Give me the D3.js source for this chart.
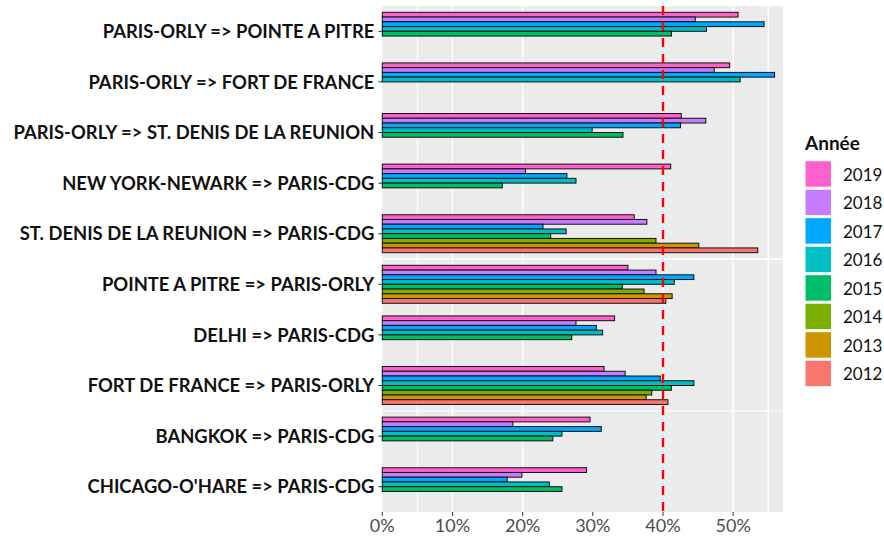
<!DOCTYPE html>
<html>
<head>
<meta charset="utf-8">
<script src="https://cdn.jsdelivr.net/npm/d3@7"></script>
<style>
  body { margin: 0; background: #fff; }
  svg { display: block; font-family: Lato, "Open Sans", sans-serif; }
</style>
</head>
<body>
<svg id="chart" width="884" height="536"></svg>
<script>
// routes, top to bottom
const routes = [
  "PARIS-ORLY => POINTE A PITRE",
  "PARIS-ORLY => FORT DE FRANCE",
  "PARIS-ORLY => ST. DENIS DE LA REUNION",
  "NEW YORK-NEWARK => PARIS-CDG",
  "ST. DENIS DE LA REUNION => PARIS-CDG",
  "POINTE A PITRE => PARIS-ORLY",
  "DELHI => PARIS-CDG",
  "FORT DE FRANCE => PARIS-ORLY",
  "BANGKOK => PARIS-CDG",
  "CHICAGO-O'HARE => PARIS-CDG"
]
const years = ["2019", "2018", "2017", "2016", "2015", "2014", "2013", "2012"]
const yearColors = ["#FF61CC", "#C77CFF", "#00A9FF", "#00BFC4", "#00BE67", "#7CAE00", "#CD9600", "#F8766D"]

// one value per route (null = no data that year)
const v2019 = [0.507, 0.495, 0.426, 0.411, 0.359, 0.350, 0.331, 0.316, 0.296, 0.291]
const v2018 = [0.446, 0.473, 0.461, 0.204, 0.377, 0.390, 0.276, 0.346, 0.186, 0.199]
const v2017 = [0.544, 0.559, 0.425, 0.263, 0.229, 0.444, 0.305, 0.396, 0.312, 0.178]
const v2016 = [0.462, 0.510, 0.299, 0.276, 0.262, 0.416, 0.314, 0.444, 0.256, 0.238]
const v2015 = [0.412, null, 0.343, 0.171, 0.240, 0.342, 0.270, 0.412, 0.243, 0.256]
const v2014 = [null, null, null, null, 0.390, 0.373, null, 0.384, null, null]
const v2013 = [null, null, null, null, 0.451, 0.413, null, 0.376, null, null]
const v2012 = [null, null, null, null, 0.535, 0.404, null, 0.407, null, null]
const seriesValues = [v2019, v2018, v2017, v2016, v2015, v2014, v2013, v2012]

const xTicks = [0, 0.1, 0.2, 0.3, 0.4, 0.5]
const gridValues = [0.05, 0.1, 0.2, 0.4, 0.5, 0.55]
const threshold = 0.4

let rows = []
routes.forEach((r, i) => {
  years.forEach((y, j) => {
    let v = seriesValues[j][i]
    if (v != null) rows.push({ route: r, year: y, value: v })
  })
})

let svg = d3.select("#chart")
let panel = { left: 382.3, top: 6, right: 783, bottom: 512 }

let x = d3.scaleLinear().domain([0, 0.571]).range([panel.left, panel.right])
let y = d3.scaleBand().domain(routes).range([panel.top, panel.bottom]).padding(0)
let inner = d3.scaleBand().domain(years)
  .range([-y.bandwidth() * 0.375, y.bandwidth() * 0.375])
let color = d3.scaleOrdinal().domain(years).range(yearColors)

svg.append("rect")
  .attr("x", panel.left).attr("y", panel.top)
  .attr("width", panel.right - panel.left).attr("height", panel.bottom - panel.top)
  .attr("fill", "#EBEBEB")

svg.append("g").selectAll("line").data(gridValues).join("line")
  .attr("x1", d => x(d)).attr("x2", d => x(d))
  .attr("y1", panel.top).attr("y2", panel.bottom)
  .attr("stroke", "#fff").attr("stroke-width", 1.3)

// the two stray horizontal rules in the original
svg.append("g").selectAll("line").data([routes[4], routes[7]]).join("line")
  .attr("x1", panel.left).attr("x2", panel.right)
  .attr("y1", d => y(d) + y.bandwidth()).attr("y2", d => y(d) + y.bandwidth())
  .attr("stroke", "#fff").attr("stroke-width", 1.3)

svg.append("g").selectAll("rect").data(rows).join("rect")
  .attr("x", x(0))
  .attr("y", d => y(d.route) + y.bandwidth() / 2 + inner(d.year))
  .attr("width", d => x(d.value) - x(0))
  .attr("height", inner.bandwidth())
  .attr("fill", d => color(d.year))
  .attr("stroke", "#111").attr("stroke-width", 1)

svg.append("line")
  .attr("x1", x(threshold)).attr("x2", x(threshold))
  .attr("y1", panel.top).attr("y2", panel.bottom)
  .attr("stroke", "#FF0000").attr("stroke-width", 2.4)
  .attr("stroke-dasharray", "9,7")

// y axis
let yAxis = svg.append("g")
yAxis.selectAll("line").data(routes).join("line")
  .attr("x1", panel.left - 4).attr("x2", panel.left)
  .attr("y1", d => y(d) + y.bandwidth() / 2).attr("y2", d => y(d) + y.bandwidth() / 2)
  .attr("stroke", "#333")
yAxis.selectAll("text").data(routes).join("text")
  .attr("x", panel.left - 8)
  .attr("y", d => y(d) + y.bandwidth() / 2)
  .attr("dy", "0.36em")
  .attr("text-anchor", "end")
  .attr("font-weight", "bold")
  .attr("font-size", 18.4)
  .attr("fill", "#111")
  .text(d => d)

// x axis
let xAxis = svg.append("g")
xAxis.selectAll("line").data(xTicks).join("line")
  .attr("x1", d => x(d)).attr("x2", d => x(d))
  .attr("y1", panel.bottom).attr("y2", panel.bottom + 4)
  .attr("stroke", "#333")
xAxis.selectAll("text").data(xTicks).join("text")
  .attr("x", d => x(d))
  .attr("y", panel.bottom + 14)
  .attr("dy", "0.36em")
  .attr("text-anchor", "middle")
  .attr("font-size", 18)
  .attr("fill", "#4D4D4D")
  .text(d => d3.format(".0%")(d))

// legend
let legend = svg.append("g").attr("transform", "translate(805,0)")
legend.append("text")
  .attr("x", 0).attr("y", 143).attr("dy", "0.36em")
  .attr("font-weight", "bold").attr("font-size", 19)
  .attr("fill", "#111")
  .text("Année")
let keys = legend.selectAll("g.key").data(years).join("g")
  .attr("class", "key")
  .attr("transform", (d, i) => `translate(0,${160.7 + i * 28.5})`)
keys.append("rect")
  .attr("width", 26.5).attr("height", 26.5)
  .attr("fill", d => color(d))
  .attr("stroke", "#fff").attr("stroke-width", 1)
keys.append("text")
  .attr("x", 38).attr("y", 14).attr("dy", "0.36em")
  .attr("font-size", 17).attr("fill", "#111")
  .text(d => d)
</script>
</body>
</html>
